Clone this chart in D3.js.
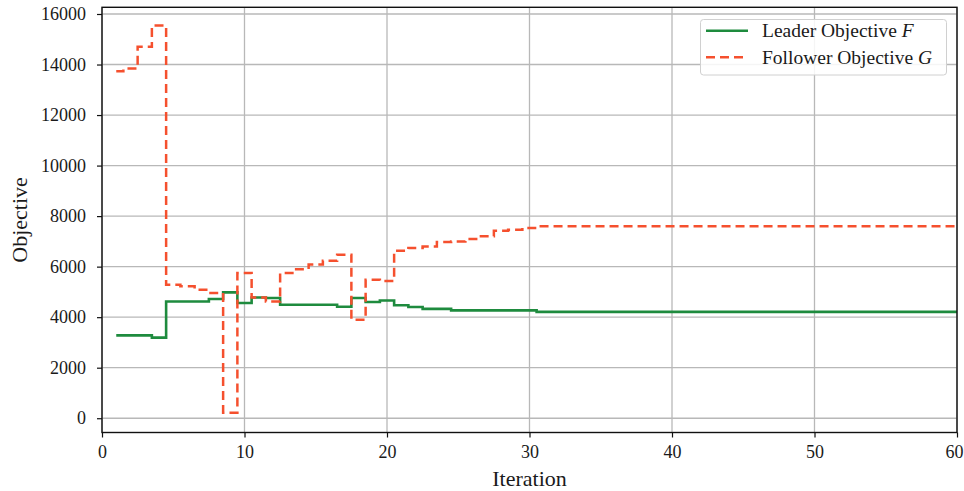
<!DOCTYPE html>
<html>
<head>
<meta charset="utf-8">
<script src="https://cdn.jsdelivr.net/npm/d3@7"></script>
<style>
  html, body { margin: 0; padding: 0; background: #fff; }
  svg { display: block; }
  text { font-family: "Liberation Serif", "DejaVu Serif", serif; fill: #1a1a1a; }
</style>
</head>
<body>
<svg id="chart" width="964" height="491"></svg>
<script>
// ---- data ----
const iterations = [1,2,3,4,5,6,7,8,9,10,11,12,13,14,15,16,17,18,19,20,
  21,22,23,24,25,26,27,28,29,30,31,32,33,34,35,36,37,38,39,40,
  41,42,43,44,45,46,47,48,49,50,51,52,53,54,55,56,57,58,59,60];

const leaderObjective = [3280,3280,3280,3190,4620,4620,4620,4720,4980,4560,
  4780,4760,4490,4490,4490,4490,4410,4760,4600,4660,
  4470,4400,4330,4330,4270,4270,4270,4270,4270,4270,
  4210,4210,4210,4210,4210,4210,4210,4210,4210,4210,
  4210,4210,4210,4210,4210,4210,4210,4210,4210,4210,
  4210,4210,4210,4210,4210,4210,4210,4210,4210,4210];

const followerObjective = [13730,13840,14700,15540,5280,5220,5090,4960,220,5750,
  4780,4620,5750,5900,6080,6230,6470,3900,5480,5430,
  6630,6740,6800,6980,7000,7090,7200,7420,7460,7530,
  7600,7600,7600,7600,7600,7600,7600,7600,7600,7600,
  7600,7600,7600,7600,7600,7600,7600,7600,7600,7600,
  7600,7600,7600,7600,7600,7600,7600,7600,7600,7600];

const xTicks = [0,10,20,30,40,50,60];
const yTicks = [0,2000,4000,6000,8000,10000,12000,14000,16000];
const xDomain = [0, 60];
const yDomain = [-565, 16265];
const seriesNames = ["Leader Objective ", "Follower Objective "];
const seriesSymbols = ["F", "G"];

// ---- layout ----
const W = 964, H = 491;
const margin = {left: 102, right: 7, top: 7.3, bottom: 58.5};
const svg = d3.select("#chart");
const x = d3.scaleLinear().domain(xDomain).range([margin.left, W - margin.right]);
const y = d3.scaleLinear().domain(yDomain).range([H - margin.bottom, margin.top]);

// clip
svg.append("defs").append("clipPath").attr("id", "clip")
  .append("rect")
  .attr("x", margin.left).attr("y", margin.top)
  .attr("width", W - margin.left - margin.right)
  .attr("height", H - margin.top - margin.bottom);

// grid
const grid = svg.append("g");
grid.selectAll("line.gx").data(xTicks).join("line")
  .attr("x1", d => x(d)).attr("x2", d => x(d))
  .attr("y1", margin.top).attr("y2", H - margin.bottom)
  .attr("stroke", "#b8b8b8").attr("stroke-width", 1.3);
grid.selectAll("line.gy").data(yTicks).join("line")
  .attr("y1", d => y(d)).attr("y2", d => y(d))
  .attr("x1", margin.left).attr("x2", W - margin.right)
  .attr("stroke", "#b8b8b8").attr("stroke-width", 1.3);

// lines
const line = (vals) => d3.line()
  .x((d, i) => x(iterations[i]))
  .y(d => y(d))
  .curve(d3.curveStep)(vals);

const plot = svg.append("g").attr("clip-path", "url(#clip)");
plot.append("path").attr("d", line(leaderObjective))
  .attr("fill", "none").attr("stroke", "#1e8b3e").attr("stroke-width", 2.6);
plot.append("path").attr("d", line(followerObjective))
  .attr("fill", "none").attr("stroke", "#f5502e").attr("stroke-width", 2.5)
  .attr("stroke-dasharray", "9,5");

// axes
const xAxis = d3.axisBottom(x).tickValues(xTicks).tickSize(5).tickPadding(8)
  .tickFormat(d3.format("d"));
const yAxis = d3.axisLeft(y).tickValues(yTicks).tickSize(5).tickPadding(11)
  .tickFormat(d3.format("d"));

const gx = svg.append("g").attr("transform", `translate(0,${H - margin.bottom})`).call(xAxis);
const gy = svg.append("g").attr("transform", `translate(${margin.left},0)`).call(yAxis);
[gx, gy].forEach(g => {
  g.select(".domain").remove();
  g.selectAll(".tick line").attr("stroke", "#111").attr("stroke-width", 1.2);
  g.selectAll(".tick text").attr("font-size", 18).attr("fill", "#1a1a1a")
    .attr("font-family", "Liberation Serif");
});
// keep the last x tick label inside the canvas, as in the reference
gx.selectAll(".tick").filter(d => d === xTicks[xTicks.length - 1])
  .select("text").attr("text-anchor", "end").attr("x", W - x(xTicks[xTicks.length - 1]) - 1);

// frame
svg.append("rect")
  .attr("x", margin.left).attr("y", margin.top)
  .attr("width", W - margin.left - margin.right)
  .attr("height", H - margin.top - margin.bottom)
  .attr("fill", "none").attr("stroke", "#111").attr("stroke-width", 1.4);

// axis labels
svg.append("text")
  .attr("x", (x.range()[0] + x.range()[1]) / 2).attr("y", 486)
  .attr("text-anchor", "middle").attr("font-size", 22)
  .text("Iteration");
svg.append("text")
  .attr("transform", `translate(27,${(y.range()[0] + y.range()[1]) / 2}) rotate(-90)`)
  .attr("text-anchor", "middle").attr("font-size", 22)
  .text("Objective");

// legend
const lg = svg.append("g");
lg.append("rect")
  .attr("x", 700.5).attr("y", 19.5).attr("width", 246).attr("height", 55.5)
  .attr("rx", 3).attr("fill", "rgba(255,255,255,0.85)")
  .attr("stroke", "#d0d0d0").attr("stroke-width", 1);
const legendY = [30.7, 57.3];
const legendStyles = [
  {stroke: "#1e8b3e", dash: null, w: 2.6},
  {stroke: "#f5502e", dash: "9,5", w: 2.5}
];
seriesNames.forEach((name, i) => {
  lg.append("line")
    .attr("x1", 706).attr("x2", 748)
    .attr("y1", legendY[i]).attr("y2", legendY[i])
    .attr("stroke", legendStyles[i].stroke)
    .attr("stroke-width", legendStyles[i].w)
    .attr("stroke-dasharray", legendStyles[i].dash);
  const t = lg.append("text").attr("x", 762).attr("y", legendY[i] + 6.5)
    .attr("font-size", 19.5);
  t.append("tspan").text(name);
  t.append("tspan").attr("font-style", "italic").text(seriesSymbols[i]);
});
</script>
</body>
</html>
